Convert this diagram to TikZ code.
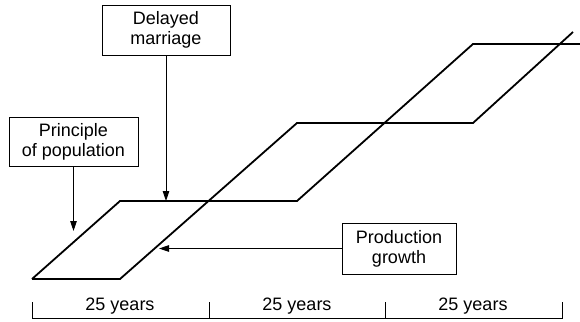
\documentclass[tikz,border=0pt]{standalone}
\usepackage{fontspec}
\setmainfont{Liberation Sans}
\usetikzlibrary{arrows.meta}
\tikzset{
  lbl/.style={draw=black, line width=0.9pt, align=center, inner sep=0pt,
    font=\fontsize{18}{20}\selectfont},
  curve/.style={line width=1.8pt, line join=miter},
  ptr/.style={line width=0.9pt, -{Triangle[length=10pt,width=6.5pt]}},
  axis/.style={line width=0.9pt},
  yrs/.style={font=\fontsize{18}{20}\selectfont, anchor=base, inner sep=0pt}
}
\begin{document}
\begin{tikzpicture}[x=1pt,y=-1pt]
\useasboundingbox (0,0) rectangle (580,321);
% growth curves
\coordinate (p0) at (32,279);
\coordinate (p1) at (120,201);
\coordinate (p2) at (297,201);
\coordinate (p3) at (473,44);
\coordinate (p4) at (580,44);
\coordinate (q1) at (120,279);
\coordinate (q2) at (297,123);
\coordinate (q3) at (473,123);
\coordinate (q4) at (573,32);
\draw[curve] (p0) -- (p1) -- (p2) -- (p3) -- (p4);
\draw[curve] (p0) -- (q1) -- (q2) -- (q3) -- (q4);
% boxes
\node[lbl, minimum width=128pt, minimum height=50pt] (dm) at (166,30) {Delayed\\marriage};
\node[lbl, minimum width=129pt, minimum height=49pt] (pp) at (73.5,141.5) {Principle\\of population};
\node[lbl, minimum width=114pt, minimum height=51pt] (pg) at (399,248.5) {Production\\growth};
\coordinate (dmE) at (166,201);
\coordinate (ppE) at (73.5,231);
\coordinate (pgE) at (159,248.5);
\draw[ptr] (dm.south) -- (dmE);
\draw[ptr] (pp.south) -- (ppE);
\draw[ptr] (pg.west) -- (pgE);
% time axis
\coordinate (a0t) at (32,302);
\coordinate (a0) at (32,318);
\coordinate (a1t) at (209,302);
\coordinate (a1) at (209,318);
\coordinate (a2t) at (385,302);
\coordinate (a2) at (385,318);
\coordinate (a3t) at (562,302);
\coordinate (a3) at (562,318);
\draw[axis] (a0t) -- (a0) -- (a3) -- (a3t);
\draw[axis] (a1t) -- (a1);
\draw[axis] (a2t) -- (a2);
\node[yrs] (y1) at (120,310) {25 years};
\node[yrs] (y2) at (297,310) {25 years};
\node[yrs] (y3) at (473,310) {25 years};
\end{tikzpicture}
\end{document}
